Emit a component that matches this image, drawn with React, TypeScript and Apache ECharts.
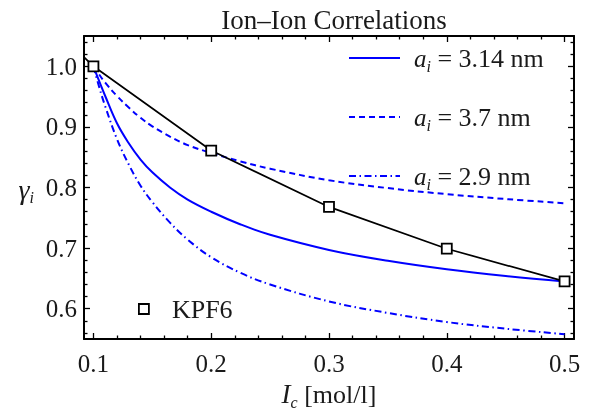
import React, { useEffect, useRef } from 'react';
import * as echarts from 'echarts';

// Concentration grid (mol/l) at which the model curves were read
const xGrid = [0.1, 0.105, 0.11, 0.12, 0.13, 0.14, 0.15, 0.165, 0.18, 0.2, 0.225, 0.25, 0.3, 0.35, 0.4, 0.45, 0.5];
// Model curves gamma_i for three ion sizes
const gammaA314 = [1.0, 0.975, 0.951, 0.906, 0.873, 0.846, 0.825, 0.8, 0.78, 0.76, 0.739, 0.722, 0.697, 0.679, 0.665, 0.654, 0.645];
const gammaA37 = [1.0, 0.986, 0.973, 0.951, 0.932, 0.915, 0.901, 0.884, 0.87, 0.857, 0.843, 0.831, 0.812, 0.799, 0.789, 0.781, 0.774];
const gammaA29 = [1.0, 0.965, 0.934, 0.88, 0.838, 0.803, 0.776, 0.742, 0.714, 0.685, 0.659, 0.64, 0.612, 0.593, 0.578, 0.567, 0.558];
// Measured KPF6 points
const kpfX = [0.1, 0.2, 0.3, 0.4, 0.5];
const kpfY = [1.0, 0.861, 0.768, 0.699, 0.645];
// line segment continuing to the left frame edge
const kpfLeadIn = [0.092, 1.015];

const seriesNames = ['3.14', '3.7', '2.9'];

// Tick values
const xMajor = [0.1, 0.2, 0.3, 0.4, 0.5];
const xMinor = [0.12, 0.14, 0.16, 0.18, 0.22, 0.24, 0.26, 0.28, 0.32, 0.34, 0.36, 0.38, 0.42, 0.44, 0.46, 0.48];
const yMajor = [0.6, 0.7, 0.8, 0.9, 1.0];
const yMinor = [0.56, 0.58, 0.62, 0.64, 0.66, 0.68, 0.72, 0.74, 0.76, 0.78, 0.82, 0.84, 0.86, 0.88, 0.92, 0.94, 0.96, 0.98, 1.02, 1.04];

const X_MIN = 0.092;
const X_MAX = 0.508;
const Y_MIN = 0.55;
const Y_MAX = 1.05;

const FONT = '"Liberation Serif", "DejaVu Serif", serif';
const TXT = '#1a1a1a';
const BLUE = '#0000ff';

export default function App() {
  const ref = useRef<HTMLDivElement>(null);

  useEffect(() => {
    if (!ref.current) return;
    const chart = echarts.init(ref.current, undefined, { renderer: 'svg' });

    const frameLine = { show: true, lineStyle: { color: '#000', width: 2 } };
    const hideLine = { show: false };

    const mkX = (pos: 'top' | 'bottom', values: number[], len: number, withLabel: boolean, withLine: boolean, extra: any = {}) => ({
      type: 'value',
      position: pos,
      min: X_MIN,
      max: X_MAX,
      axisLine: withLine ? frameLine : hideLine,
      splitLine: { show: false },
      axisTick: { show: true, inside: true, length: len, customValues: values, lineStyle: { color: '#000', width: 1.3 } },
      axisLabel: withLabel
        ? { show: true, customValues: values, formatter: (v: number) => v.toFixed(1), fontFamily: FONT, fontSize: 25, color: TXT, margin: 12 }
        : { show: false },
      ...extra,
    });
    const mkY = (pos: 'left' | 'right', values: number[], len: number, withLabel: boolean, withLine: boolean, extra: any = {}) => ({
      type: 'value',
      position: pos,
      min: Y_MIN,
      max: Y_MAX,
      axisLine: withLine ? frameLine : hideLine,
      splitLine: { show: false },
      axisTick: { show: true, inside: true, length: len, customValues: values, lineStyle: { color: '#000', width: 1.3 } },
      axisLabel: withLabel
        ? { show: true, customValues: values, formatter: (v: number) => v.toFixed(1), fontFamily: FONT, fontSize: 25, color: TXT, margin: 7 }
        : { show: false },
      ...extra,
    });

    const curveSeries = (name: string, vals: number[], type: any) => ({
      type: 'line',
      name,
      xAxisIndex: 0,
      yAxisIndex: 0,
      data: xGrid.map((x, i) => [x, vals[i]]),
      smooth: 0.4,
      symbol: 'none',
      showSymbol: false,
      lineStyle: { color: BLUE, width: 2, type },
      itemStyle: { color: BLUE },
      z: 2,
    });

    const richMain = { fontFamily: FONT, fontSize: 25, color: TXT, lineHeight: 32, verticalAlign: 'middle' };
    const richIt = { ...richMain, fontStyle: 'italic' };
    const richSub = { fontFamily: FONT, fontSize: 16, color: TXT, fontStyle: 'italic', lineHeight: 16, verticalAlign: 'bottom' };

    const option: any = {
      animation: false,
      title: {
        text: 'Ion–Ion Correlations',
        left: 329,
        top: 1,
        textAlign: 'center',
        textStyle: { fontFamily: FONT, fontSize: 27, fontWeight: 'normal', color: TXT },
      },
      grid: { left: 84, right: 24, top: 36, bottom: 80, containLabel: false },
      legend: [
        {
          data: seriesNames,
          orient: 'vertical',
          left: 343,
          top: 40,
          itemWidth: 51,
          itemHeight: 14,
          itemGap: 30,
          itemStyle: { opacity: 0 },
          formatter: (name: string) => `{it|a}{sub|i}{t| = ${name} nm}`,
          textStyle: {
            fontFamily: FONT,
            fontSize: 25,
            color: TXT,
            rich: {
              it: { ...richIt, padding: [0, 0, 0, 9] },
              sub: richSub,
              t: { ...richMain, fontSize: 26 },
            },
          },
        },
        {
          data: [{ name: 'KPF6', icon: 'rect', itemStyle: { color: '#fff', borderColor: '#000', borderWidth: 1.8 } }],
          left: 133,
          top: 291,
          itemWidth: 10,
          itemHeight: 10,
          formatter: (name: string) => `{t|${name}}`,
          textStyle: { fontFamily: FONT, fontSize: 25, color: TXT, rich: { t: { ...richMain, fontSize: 26, padding: [0, 0, 0, 18] } } },
        },
      ],
      xAxis: [
        mkX('bottom', xMajor, 6, true, true, {
          name: '{I|I}{c|c}{t| [mol/l]}',
          nameLocation: 'middle',
          nameGap: 38,
          nameTextStyle: {
            fontFamily: FONT,
            fontSize: 26,
            color: TXT,
            rich: { I: { ...richIt, fontSize: 27 }, c: richSub, t: { ...richMain, fontSize: 26 } },
          },
        }),
        mkX('bottom', xMinor, 3.5, false, false),
        mkX('top', xMajor, 6, false, true),
        mkX('top', xMinor, 3.5, false, false),
      ],
      yAxis: [
        mkY('left', yMajor, 6, true, true, {
          name: '{g|γ}{s|i}',
          nameLocation: 'middle',
          nameRotate: 0,
          nameGap: 50,
          nameTextStyle: {
            fontFamily: FONT,
            fontSize: 27,
            color: TXT,
            padding: [4, 0, 0, 0],
            rich: { g: { ...richIt, fontSize: 28 }, s: richSub },
          },
        }),
        mkY('left', yMinor, 3.5, false, false),
        mkY('right', yMajor, 6, false, true),
        mkY('right', yMinor, 3.5, false, false),
      ],
      series: [
        curveSeries(seriesNames[0], gammaA314, 'solid'),
        curveSeries(seriesNames[1], gammaA37, [6, 4]),
        curveSeries(seriesNames[2], gammaA29, [7, 3.5, 1.5, 3.5]),
        {
          type: 'line',
          name: 'KPF6',
          xAxisIndex: 0,
          yAxisIndex: 0,
          data: [
            { value: kpfLeadIn, symbol: 'none' },
            ...kpfX.map((x, i) => [x, kpfY[i]]),
          ],
          symbol: 'rect',
          symbolSize: 10,
          showSymbol: true,
          lineStyle: { color: '#000', width: 1.7 },
          itemStyle: { color: '#fff', borderColor: '#000', borderWidth: 1.8 },
          z: 3,
        },
      ],
    };

    chart.setOption(option);
    return () => chart.dispose();
  }, []);

  return <div ref={ref} style={{ position: 'fixed', left: 0, top: 0, width: 598, height: 419 }} />;
}
